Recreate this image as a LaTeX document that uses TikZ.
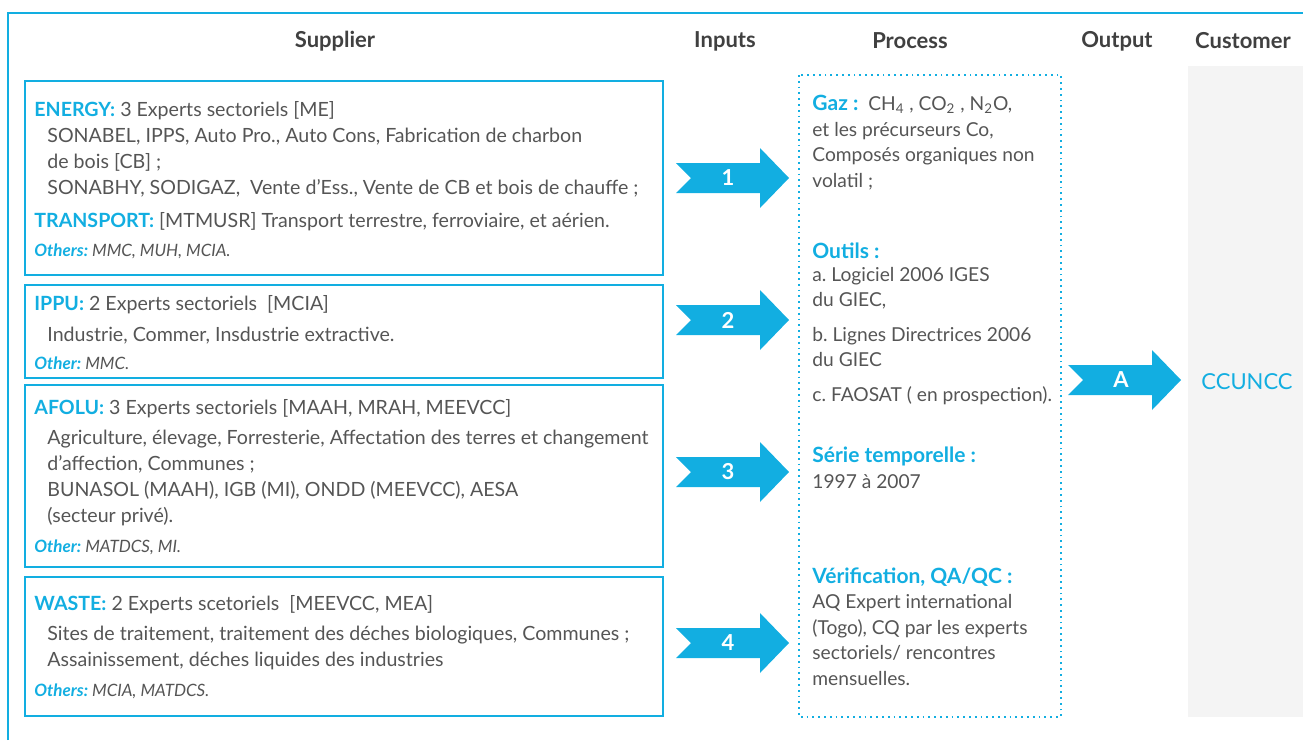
\documentclass[tikz,border=0pt]{standalone}
\usepackage{fontspec}
\setmainfont{Lato}
\usepackage{xcolor}
\usetikzlibrary{positioning}

\definecolor{sipocblue}{HTML}{12AEE1}
\definecolor{bodygray}{HTML}{555555}
\definecolor{headgray}{HTML}{404040}
\definecolor{custgray}{HTML}{F4F4F4}

\newcommand{\sechead}[1]{{\color{sipocblue}\bfseries #1}}
\frenchspacing

\tikzset{
    colhead/.style={font=\fontsize{11}{13}\selectfont\bfseries, text=headgray},
    supbox/.style={draw=sipocblue, line width=1.2pt},
    boxtext/.style={anchor=base west, align=left, inner sep=0pt,
        font=\fontsize{9.8}{13}\selectfont, text=bodygray},
    proctext/.style={boxtext, font=\fontsize{9.6}{12.75}\selectfont},
    othtext/.style={anchor=base west, inner sep=0pt,
        font=\fontsize{8.5}{10}\selectfont\itshape, text=bodygray},
    arrowshape/.style={fill=sipocblue, draw=none},
    arrowlabel/.style={text=white, font=\fontsize{11}{13}\selectfont\bfseries}
}

\begin{document}
\begin{tikzpicture}[x=0.5pt, y=-0.5pt]
        \useasboundingbox (0,0) rectangle (1303,740);

        % Frame
        \draw[sipocblue, line width=1pt] (8,740) -- (8,13) -- (1303,13);

        % Column titles
        \node[colhead] (supplier) at (335,41) {Supplier};
        \node[colhead] (inputs) at (725,41) {Inputs};
        \node[colhead] (process) at (910,41) {Process};
        \node[colhead] (output) at (1117,41) {Output};
        \node[colhead] (customer) at (1243,41) {Customer};

        % Customer column
        \fill[custgray] (1188,66) rectangle (1303,717);
        \node[text=sipocblue, font=\fontsize{11}{13}\selectfont] (ccuncc) at (1247,382) {CCUNCC};

        % Supplier boxes
        \draw[supbox] (25,81) rectangle (663,275);
        \draw[supbox] (25,285) rectangle (663,378);
        \draw[supbox] (25,385) rectangle (663,567);
        \draw[supbox] (25,577) rectangle (663,716);

        % Energy (anchored at the last line)
        \node[boxtext] (energy) at (34,227) {\sechead{ENERGY:} 3 Experts sectoriels [ME]\\
            \hspace*{6.5pt}SONABEL, IPPS, Auto Pro., Auto Cons, Fabrication de charbon\\
            \hspace*{6.5pt}de bois [CB] ;\\
            \hspace*{6.5pt}SONABHY, SODIGAZ,\ \ Vente d’Ess., Vente de CB et bois de chauffe ;\\[3.5pt]
            \sechead{TRANSPORT:} [MTMUSR] Transport terrestre, ferroviaire, et aérien.};
        \node[othtext] (energyoth) at (34,256) {\sechead{Others:} MMC, MUH, MCIA.};

        % IPPU
        \node[boxtext] (ippu) at (34,341) {\sechead{IPPU:} 2 Experts sectoriels\ \ [MCIA]\\[2.5pt]
            \hspace*{6.5pt}Industrie, Commer, Insdustrie extractive.};
        \node[othtext] (ippuoth) at (34,369) {\sechead{Other:} MMC.};

        % AFOLU
        \node[boxtext] (afolu) at (34,522) {\sechead{AFOLU:} 3 Experts sectoriels [MAAH, MRAH, MEEVCC]\\[2pt]
            \hspace*{6.5pt}Agriculture, élevage, Forresterie, Affectation des terres et changement\\
            \hspace*{6.5pt}d’affection, Communes ;\\
            \hspace*{6.5pt}BUNASOL (MAAH), IGB (MI), ONDD (MEEVCC), AESA\\
            \hspace*{6.5pt}(secteur privé).};
        \node[othtext] (afoluoth) at (34,552) {\sechead{Other:} MATDCS, MI.};

        % Waste
        \node[boxtext] (waste) at (34,666) {\sechead{WASTE:} 2 Experts scetoriels\ \ [MEEVCC, MEA]\\[2pt]
            \hspace*{6.5pt}Sites de traitement, traitement des déches biologiques, Communes ;\\
            \hspace*{6.5pt}Assainissement, déches liquides des industries};
        \node[othtext] (wasteoth) at (34,696) {\sechead{Others:} MCIA, MATDCS.};

        % Input arrows
        \foreach \lab/\cy in {1/178, 2/320, 3/472, 4/643} {
            \fill[arrowshape, shift={(728,\cy)}] (-52,-15) -- (32,-15) -- (32,-30) -- (61,0)
                -- (32,30) -- (32,15) -- (-52,15) -- (-37,0) -- cycle;
            \node[arrowlabel] (in\lab) at (728,\cy) {\lab};
        }

        % Process box
        \draw[sipocblue, line width=0.9pt, dotted] (799,75) rectangle (1061,717);
        \node[proctext] (gaz) at (812,187) {{\fontsize{10.5}{12}\selectfont\sechead{Gaz :}}\ \ CH\textsubscript{4} , CO\textsubscript{2} , N\textsubscript{2}O,\\
            et les précurseurs Co,\\
            Composés organiques non\\
            volatil ;};
        \node[proctext] (outils) at (812,401) {{\fontsize{10.5}{12}\selectfont\sechead{Outils :}}\\[-1.5pt]
            a. Logiciel 2006 IGES\\
            du GIEC,\\[4.5pt]
            b. Lignes Directrices 2006\\
            du GIEC\\[4.5pt]
            c. FAOSAT ( en prospection).};
        \node[proctext] (serie) at (812,488) {{\fontsize{10.5}{12}\selectfont\sechead{Série temporelle :}}\\
            1997 à 2007};
        \node[proctext] (verif) at (812,685) {{\fontsize{10.5}{12}\selectfont\sechead{Vérification, QA/QC :}}\\
            AQ Expert international\\
            (Togo), CQ par les experts\\
            sectoriels/ rencontres\\
            mensuelles.};

        % Output arrow
        \fill[arrowshape, shift={(1121,380)}] (-53,-15) -- (31,-15) -- (31,-30) -- (60,0)
            -- (31,30) -- (31,15) -- (-53,15) -- (-38,0) -- cycle;
        \node[arrowlabel] (outA) at (1121,380) {A};

    \end{tikzpicture}
\end{document}
